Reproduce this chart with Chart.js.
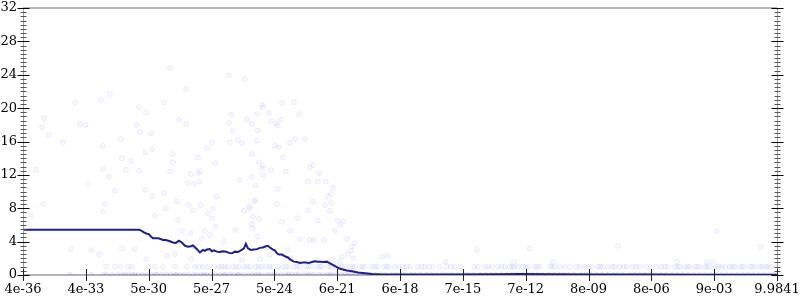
<!DOCTYPE html>
<html lang="en">
<head>
  <meta charset="UTF-8" />
  <title>Scatter with running mean</title>
  <script src="https://cdn.jsdelivr.net/npm/chart.js"></script>
  <style>
    html, body {
      margin: 0;
      padding: 0;
      background-color: white;
    }
    #chart {
      display: block;
    }
  </style>
</head>
<body>
  <canvas id="chart" width="800" height="300"></canvas>

  <script>
    // x range of the plot (log axis)
    const xMin = 4e-36;
    const xMax = 9.9841;

    const xTickLabels = ['4e-36', '4e-33', '5e-30', '5e-27', '5e-24', '6e-21', '6e-18',
                         '7e-15', '7e-12', '8e-09', '8e-06', '9e-03', '9.9841'];
    const yTickValues = [0, 4, 8, 12, 16, 20, 24, 28, 32];

    // running mean line: log10(x) and y
    const lineLogX = [-35.40, -29.80, -29.71, -29.56, -29.42, -29.32, -29.22, -29.13, -28.88, -28.79,
                      -28.64, -28.50, -28.31, -28.16, -28.02, -27.87, -27.73, -27.58, -27.44, -27.29,
                      -27.20, -27.05, -26.95, -26.86, -26.71, -26.62, -26.52, -26.38, -26.28, -26.18,
                      -26.04, -25.89, -25.75, -25.60, -25.46, -25.31, -25.17, -25.02, -24.88, -24.73,
                      -24.64, -24.54, -24.40, -24.25, -24.11, -23.96, -23.82, -23.67, -23.58, -23.48,
                      -23.33, -23.24, -23.14, -23.05, -22.90, -22.76, -22.61, -22.47, -22.32, -22.18,
                      -22.03, -21.89, -21.74, -21.60, -21.45, -21.31, -21.16, -21.02, -20.87, -20.73,
                      -20.58, -20.44, -20.29, -20.15, -19.96, -19.76, -19.52, -19.23, -18.89, -18.56,
                      -18.17, -17.21, -15.28, -12.38, -11.41, -9.97, -7.55, -5.14, -2.73, 0.999];
    const lineY = [5.43, 5.43, 5.35, 5.10, 4.95, 4.90, 4.60, 4.40, 4.40, 4.35,
                   4.20, 4.20, 4.05, 3.90, 3.85, 4.10, 3.90, 3.50, 3.40, 3.45,
                   3.55, 3.20, 2.95, 2.70, 3.00, 2.90, 3.05, 3.10, 2.85, 2.95,
                   2.80, 2.75, 2.85, 2.80, 2.65, 2.60, 2.80, 2.75, 2.95, 3.20,
                   3.75, 3.20, 3.00, 3.05, 3.10, 3.25, 3.30, 3.45, 3.50, 3.30,
                   3.05, 2.95, 2.60, 2.45, 2.45, 2.25, 2.10, 1.80, 1.60, 1.55,
                   1.45, 1.50, 1.50, 1.45, 1.55, 1.65, 1.60, 1.60, 1.55, 1.60,
                   1.40, 1.20, 1.00, 0.80, 0.65, 0.55, 0.45, 0.30, 0.20, 0.12,
                   0.08, 0.05, 0.06, 0.10, 0.12, 0.08, 0.06, 0.05, 0.04, 0.04];

    // scattered samples: log10(x) and y
    const scatterLogX = [-34.39, -34.48, -34.15, -33.47, -32.89, -32.65, -32.36, -31.64, -31.20, -31.54,
                         -30.67, -29.90, -29.80, -29.75, -29.46, -29.22, -29.17, -28.59, -28.31, -27.87,
                         -27.53, -27.53, -25.46, -24.69, -23.87, -23.82, -22.90, -22.32, -25.36, -24.11,
                         -23.53, -22.08, -24.59, -24.35, -25.46, -23.43, -23.19, -22.95, -23.09, -25.27,
                         -24.06, -26.28, -25.41, -25.02, -24.83, -24.11, -23.24, -23.05, -22.51, -22.27,
                         -21.79, -26.52, -29.51, -28.16, -30.62, -30.19, -26.95, -24.35, -26.13, -28.16,
                         -24.01, -23.82, -22.85, -23.87, -31.54, -30.43, -29.80, -28.31, -27.29, -26.95,
                         -26.86, -23.43, -22.71, -31.25, -24.35, -23.82, -27.44, -27.15, -26.86, -24.93,
                         -23.09, -30.96, -29.51, -28.59, -29.17, -26.04, -24.16, -31.44, -27.97, -27.39,
                         -26.81, -26.23, -24.49, -23.14, -28.50, -34.77, -32.26, -34.43, -35.01, -31.54,
                         -29.03, -27.92, -27.73, -27.29, -27.20, -33.08, -32.12, -31.73, -30.62, -30.00,
                         -29.46, -28.45, -28.06, -27.29, -27.15, -21.40, -21.55, -21.11, -21.65, -21.16,
                         -20.78, -24.16, -20.44, -20.54, -20.68, -24.25, -21.40, -20.82, -26.47, -24.73,
                         -24.44, -24.30, -24.01, -26.28, -21.65, -20.58, -20.54, -22.90, -22.13, -21.16,
                         -20.20, -19.91, -20.10, -26.09, -26.62, -25.17, -24.35, -24.30, -22.51, -20.34,
                         -26.76, -25.70, -22.03, -21.55, -21.36, -20.87, -19.76, -19.38, -26.38, -24.06,
                         -19.52, -19.57, -20.00, -19.72, -17.83, -18.07, -23.48, -22.61, -22.47, -23.96,
                         -24.83, -21.21, -20.49, -20.10, -19.47, -13.49, -10.93, -14.99, -11.70, -9.82,
                         -6.68, -1.91, 0.22, -3.84, -2.39, -2.10];
    const scatterY = [18.8, 17.7, 16.8, 15.9, 20.7, 18.1, 18.0, 21.0, 21.7, 15.5,
                      16.3, 18.0, 20.1, 17.1, 19.5, 17.0, 15.1, 20.7, 24.8, 18.6,
                      22.3, 18.1, 23.9, 23.5, 20.4, 20.1, 20.6, 20.7, 19.2, 19.3,
                      19.4, 19.3, 18.6, 18.1, 18.2, 18.5, 18.2, 18.6, 17.9, 17.3,
                      17.3, 15.9, 15.9, 16.2, 15.8, 16.1, 15.5, 15.3, 15.8, 16.3,
                      16.3, 15.2, 14.7, 14.5, 14.0, 13.7, 14.1, 14.5, 13.4, 13.5,
                      13.5, 13.1, 14.1, 12.8, 12.7, 12.6, 12.5, 12.4, 12.1, 12.2,
                      12.4, 12.6, 12.4, 11.8, 11.8, 12.0, 11.0, 10.9, 11.2, 11.4,
                      10.3, 10.1, 10.2, 9.8, 9.4, 9.4, 9.0, 8.5, 8.8, 8.4,
                      8.4, 8.0, 8.2, 8.5, 8.0, 12.6, 10.9, 8.5, 7.2, 7.6,
                      7.1, 6.6, 5.3, 5.0, 7.7, 3.1, 3.0, 2.5, 3.2, 3.1,
                      1.9, 2.3, 2.5, 1.9, 3.4, 13.2, 12.9, 12.2, 11.2, 11.2,
                      11.2, 10.7, 10.4, 9.7, 9.4, 8.8, 8.8, 8.4, 7.4, 7.7,
                      8.0, 7.0, 6.7, 6.8, 7.7, 7.7, 8.6, 6.4, 6.8, 6.5,
                      6.5, 6.4, 6.0, 5.8, 5.3, 5.4, 6.1, 5.6, 5.3, 5.3,
                      4.4, 4.0, 4.3, 4.2, 4.2, 4.2, 4.3, 3.8, 4.8, 4.6,
                      3.4, 2.9, 2.2, 2.5, 2.3, 2.2, 2.4, 3.0, 2.0, 1.9,
                      1.8, 1.8, 1.8, 1.6, 2.0, 3.0, 3.2, 1.6, 1.6, 1.6,
                      3.5, 5.2, 3.4, 1.6, 1.6, 1.6];

    // samples sitting on y = 1
    const oneRowLogX = [-31.39, -30.96, -30.67, -30.33, -30.14, -29.32, -29.03, -28.64, -28.06, -27.49,
                        -27.10, -26.91, -26.71, -26.47, -26.18, -25.94, -25.65, -25.51, -25.27, -24.98,
                        -24.73, -24.44, -24.16, -23.87, -23.67, -23.38, -23.09, -22.85, -22.56, -22.32,
                        -22.03, -21.74, -21.50, -21.21, -20.97, -20.68, -20.44, -20.15, -19.86, -19.62,
                        -19.38, -19.14, -18.90, -18.56, -18.27, -17.98, -17.74, -17.45, -17.25, -17.06,
                        -16.72, -16.34, -16.00, -15.61, -15.28, -14.94, -14.55, -14.31, -13.44, -13.10,
                        -12.77, -12.48, -12.14, -11.90, -11.70, -11.51, -11.27, -11.03, -10.69, -10.45,
                        -9.97, -9.73, -9.24, -9.00, -8.52, -8.28, -7.94, -7.65, -7.41, -7.17,
                        -6.83, -6.59, -6.25, -5.96, -5.62, -5.33, -4.85, -4.42, -4.27, -3.93,
                        -3.69, -3.45, -3.21, -2.97, -2.73, -2.49, -2.25, -1.96, -1.67, -1.28,
                        -1.04, -0.80, -0.56, -0.31, -0.07, 0.17, 0.46, 0.70, 0.94,
                        -25.80, -25.12, -24.58, -24.02, -23.51, -22.70, -22.18, -21.62, -21.05, -20.55,
                        -20.01, -19.50, -19.02, -18.40, -17.85, -16.88, -16.15, -15.80, -14.75, -13.62,
                        -12.95, -12.30, -11.80, -11.15, -10.58, -9.85, -9.48, -8.70, -8.10, -7.53,
                        -6.95, -6.40, -5.80, -5.10, -4.60, -3.80, -3.32, -2.85, -2.38, -1.82,
                        -1.50, -1.15, -0.68, -0.20, 0.30, 0.58];

    // samples sitting on y = 0
    const zeroRowLogX = [-33.13, -31.52, -30.48, -30.02, -29.41, -28.93, -28.47, -27.98, -27.62, -27.18,
                         -26.80, -26.35, -25.90, -25.41, -24.97, -24.52, -24.03, -23.61, -23.12, -22.70,
                         -22.24, -21.83, -21.36, -20.92, -20.47, -20.01, -19.55, -19.07, -18.62, -18.11,
                         -17.60, -16.95, -16.20, -15.45, -14.72, -13.90, -13.05, -12.31, -11.58, -10.82,
                         -10.02, -9.31, -8.47, -7.70, -6.92, -6.11, -5.38, -4.60, -3.80, -3.02,
                         -2.21, -1.45, -0.66, 0.12, 0.85,
                         -32.10, -31.35, -31.08, -30.83, -30.61, -30.30, -30.11, -29.84, -29.62, -29.20,
                         -29.01, -28.70, -28.27, -28.06, -27.81, -27.42, -27.01, -26.66, -26.54, -26.12,
                         -25.71, -25.63, -25.22, -25.03, -24.75, -24.31, -24.15, -23.88, -23.44, -23.27,
                         -22.91, -22.58, -22.41, -22.09, -21.64, -21.55, -21.12, -20.71, -20.58, -20.28,
                         -19.84, -19.70, -19.31, -18.88, -18.79, -18.40, -17.92, -17.37, -17.13, -16.66,
                         -16.47, -15.92, -15.70, -15.17, -14.95, -14.40, -14.11, -13.66, -13.33, -12.80,
                         -12.58, -12.05, -11.81, -11.27, -11.02, -10.55, -10.31, -9.76, -9.52, -9.05,
                         -8.80, -8.22, -7.98, -7.45, -7.18, -6.70, -6.45, -5.87, -5.62, -5.12,
                         -4.88, -4.35, -4.05, -3.55, -3.28, -2.73, -2.48, -1.96, -1.70, -1.20,
                         -0.92, -0.42, -0.15, 0.38, 0.62];

    const xTickPos = xTickLabels.map((_, i) =>
      Math.pow(10, Math.log10(xMin) + i * (Math.log10(xMax) - Math.log10(xMin)) / (xTickLabels.length - 1)));

    const toPoints = (lx, ys) => lx.map((v, i) => ({ x: Math.pow(10, v), y: ys[i] }));
    const onRow = (lx, y) => lx.map(v => ({ x: Math.pow(10, v), y: y }));

    const dotFill = 'rgba(40, 40, 235, 0.035)';
    const dotLine = 'rgba(40, 40, 235, 0.06)';

    // crossing ticks on the axes, minor ticks every 0.5 on y
    const axisTicks = {
      id: 'axisTicks',
      afterDatasetsDraw(chart) {
        const { ctx, chartArea: a, scales } = chart;
        const y = scales.y, x = scales.x;
        const L = Math.round(a.left) + 0.5, R = Math.round(a.right) + 0.5;
        ctx.save();
        ctx.lineWidth = 1;
        ctx.strokeStyle = '#a0a0a0';
        ctx.beginPath();
        ctx.moveTo(L, a.top); ctx.lineTo(L, a.bottom);
        ctx.moveTo(R, a.top); ctx.lineTo(R, a.bottom);
        ctx.stroke();
        for (let v = 0; v <= 32; v += 0.5) {
          const py = Math.round(y.getPixelForValue(v)) + 0.5;
          const major = v % 4 === 0;
          const len = major ? 6 : 3;
          ctx.strokeStyle = major ? '#000' : '#555';
          ctx.beginPath();
          ctx.moveTo(L - len, py); ctx.lineTo(L + len, py);
          ctx.moveTo(R - len, py); ctx.lineTo(R + len, py);
          ctx.stroke();
        }
        ctx.strokeStyle = '#222';
        xTickPos.forEach(v => {
          const px = Math.round(x.getPixelForValue(v)) + 0.5;
          ctx.beginPath();
          ctx.moveTo(px, a.bottom - 6); ctx.lineTo(px, a.bottom + 6);
          ctx.stroke();
        });
        ctx.restore();
      }
    };

    Chart.defaults.font.family = "'DejaVu Serif', serif";
    Chart.defaults.font.size = 13;
    Chart.defaults.color = '#000';

    new Chart('chart', {
      type: 'scatter',
      data: {
        datasets: [
          {
            label: 'mean',
            data: toPoints(lineLogX, lineY),
            showLine: true,
            borderColor: '#1e1e8c',
            borderWidth: 2,
            pointRadius: 0,
            tension: 0
          },
          {
            label: 'samples',
            data: toPoints(scatterLogX, scatterY),
            pointRadius: 2.5,
            backgroundColor: dotFill,
            borderColor: dotLine,
            borderWidth: 1
          },
          {
            label: 'y = 1',
            data: onRow(oneRowLogX, 1),
            pointRadius: 2.5,
            backgroundColor: dotFill,
            borderColor: dotLine,
            borderWidth: 1
          },
          {
            label: 'y = 0',
            data: onRow(zeroRowLogX, 0),
            pointRadius: 2.5,
            backgroundColor: 'rgba(40, 40, 235, 0.06)',
            borderColor: 'rgba(40, 40, 235, 0.1)',
            borderWidth: 1
          }
        ]
      },
      options: {
        responsive: false,
        animation: false,
        devicePixelRatio: 1,
        layout: { padding: { top: 8, left: 0, right: 0, bottom: 0 } },
        plugins: {
          legend: { display: false },
          tooltip: { enabled: false }
        },
        scales: {
          x: {
            type: 'logarithmic',
            min: xMin,
            max: xMax,
            border: { display: false },
            grid: { display: false, drawTicks: false },
            afterBuildTicks: s => { s.ticks = xTickPos.map(v => ({ value: v })); },
            afterFit: s => { s.height = 25; s.paddingLeft = 0; s.paddingRight = 0; },
            ticks: {
              autoSkip: false,
              maxRotation: 0,
              padding: 7,
              callback: (v, i) => xTickLabels[i]
            }
          },
          y: {
            min: 0,
            max: 32,
            border: { display: false },
            afterBuildTicks: s => { s.ticks = yTickValues.map(v => ({ value: v })); },
            afterFit: s => { s.width = 23; s.paddingTop = 0; s.paddingBottom = 0; },
            grid: {
              drawTicks: false,
              lineWidth: 2,
              color: c => (c.tick.value === 0 || c.tick.value === 32) ? '#b4b4b4' : 'rgba(0,0,0,0)'
            },
            ticks: { padding: 6 }
          },
          y2: {
            position: 'right',
            min: 0,
            max: 32,
            border: { display: false },
            grid: { display: false, drawTicks: false },
            ticks: { display: false },
            afterFit: s => { s.width = 23; s.paddingTop = 0; s.paddingBottom = 0; }
          }
        }
      },
      plugins: [axisTicks]
    });
  </script>
</body>
</html>
